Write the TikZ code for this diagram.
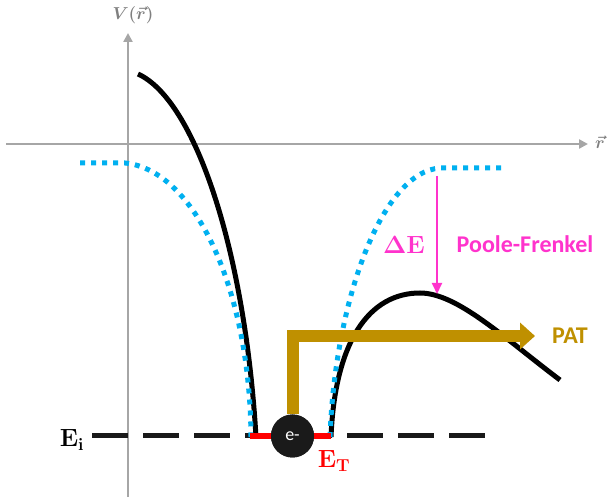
\documentclass[tikz,border=0pt]{standalone}
\usepackage[no-math]{fontspec}
\newfontfamily\carlito{Carlito}
\usetikzlibrary{arrows.meta}
\definecolor{axisgray}{HTML}{A6A6A6}
\definecolor{labelgray}{HTML}{808080}
\definecolor{wellblue}{HTML}{00B0F0}
\definecolor{patgold}{HTML}{BF9000}
\definecolor{pfmag}{HTML}{FF33CC}
\definecolor{trapred}{HTML}{FF0000}
\definecolor{elecblack}{HTML}{1A1A1A}
\tikzset{
  axisline/.style={draw=axisgray, line width=2.5pt, -{Triangle[length=9pt,width=9pt]}},
  potline/.style={draw=black, line width=5pt},
  dotline/.style={draw=wellblue, line width=5pt, dash pattern=on 5pt off 6pt},
  levelline/.style={draw=black!90, line width=5pt, dash pattern=on 36pt off 15pt},
  trapline/.style={draw=trapred, line width=6pt},
  patarrow/.style={draw=patgold, line width=12pt, miter limit=10, -{Triangle[length=15pt,width=26pt]}},
  pfarrow/.style={draw=pfmag, line width=2pt, -{Triangle[length=11pt,width=10pt]}},
  electron/.style={circle, fill=elecblack, minimum size=43pt, inner sep=0pt, text=white, font=\carlito\fontsize{18}{20}\selectfont},
  sanslabel/.style={font=\carlito\bfseries\fontsize{24}{28}\selectfont, inner sep=0pt},
  seriflabel/.style={font=\bfseries\fontsize{27}{30}\selectfont, inner sep=0pt},
  axislabel/.style={text=labelgray, inner sep=0pt, font=\boldmath\fontsize{19}{22}\selectfont}
}
\begin{document}
\begin{tikzpicture}[x=1pt,y=-1pt]
\useasboundingbox (0,0) rectangle (608,502);
% axes
\coordinate (vbot) at (128,497);
\coordinate (vtop) at (128,33);
\coordinate (hleft) at (6,144);
\coordinate (hright) at (588,144);
\draw[axisline] (vbot) -- (vtop);
\draw[axisline] (hleft) -- (hright);
\node[axislabel] (vlab) at (133,15) {$V(\vec{r})$};
\node[axislabel] (rlab) at (600,142) {$\vec{r}$};
% E_i level
\coordinate (lvla) at (92,436);
\coordinate (lvlb) at (486,436);
\draw[levelline] (lvla) -- (lvlb);
% black potential
\coordinate (la) at (138,74);
\coordinate (lb) at (256,437);
\draw[potline] (la) .. controls (195,100) and (245,250) .. (lb);
\coordinate (ra) at (331,437);
\coordinate (rpk) at (420,293);
\coordinate (rend) at (560,380);
\draw[potline] (ra) .. controls (335,340) and (370,293) .. (rpk)
   .. controls (457,293) and (503,337) .. (rend);
% blue dotted (no field)
\coordinate (bla) at (80,163);
\coordinate (blb) at (125,163);
\coordinate (blc) at (251,437);
\draw[dotline] (bla) -- (blb) .. controls (195,170) and (250,290) .. (blc);
\coordinate (bra) at (330,437);
\coordinate (brb) at (440,168);
\coordinate (brc) at (503,168);
\draw[dotline] (bra) .. controls (335,300) and (382,172) .. (brb) -- (brc);
% trap level
\coordinate (tra) at (250,436);
\coordinate (trb) at (331,436);
\draw[trapline] (tra) -- (trb);
% PAT arrow
\node[electron] (el) at (292.5,436) {e-};
\coordinate (patc) at (292.5,336);
\coordinate (pate) at (535,336);
\draw[patarrow] (el.north) -- (patc) -- (pate);
\node[sanslabel, text=patgold] (patlab) at (570,336) {PAT};
\node[electron] at (el) {e-};
% Poole-Frenkel
\coordinate (pft) at (437,176);
\coordinate (pfb) at (437,294);
\draw[pfarrow] (pft) -- (pfb);
\node[sanslabel, text=pfmag] (pflab) at (525,244) {Poole-Frenkel};
\node[seriflabel, text=pfmag, font=\fontsize{24}{27}\selectfont] (delab) at (404,245) {$\mathbf{\Delta E}$};
% labels
\node[seriflabel] (eilab) at (72,440) {$\mathbf{E_i}$};
\node[seriflabel, text=trapred] (etlab) at (334,461) {$\mathbf{E_T}$};
\end{tikzpicture}
\end{document}
